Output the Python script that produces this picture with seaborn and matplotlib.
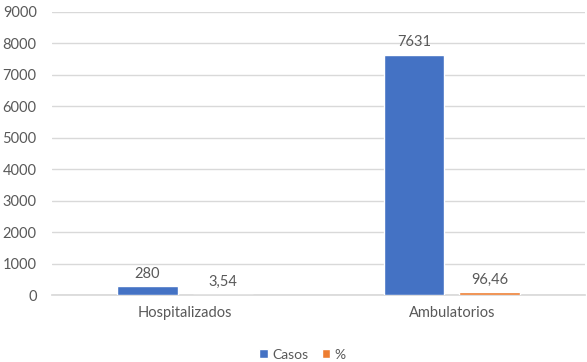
import pandas as pd
import matplotlib.pyplot as plt
import seaborn as sns

# ---------------- Data ----------------
categorias = ["Hospitalizados", "Ambulatorios"]
casos = [280, 7631]
porcentaje = [3.54, 96.46]
series = ["Casos", "%"]

df = pd.DataFrame({
    "Categoria": categorias * 2,
    "Serie": [series[0]] * len(categorias) + [series[1]] * len(categorias),
    "Valor": casos + porcentaje,
})

sns.set_theme(style="white")
plt.rcParams["font.family"] = ["Lato", "DejaVu Sans"]
txt = "#595959"

fig = plt.figure(figsize=(5.87, 3.62), dpi=100)
ax = fig.add_axes([0.0886, 0.185, 0.908, 0.782])

sns.barplot(data=df, x="Categoria", y="Valor", hue="Serie",
            palette=["#4472C4", "#ED7D31"], width=0.566, gap=0.2,
            saturation=1, ax=ax, zorder=3)

ax.set_ylim(0, 9000)
ax.set_yticks(range(0, 9001, 1000))
ax.yaxis.grid(True, color="#D9D9D9", linewidth=1, zorder=0)
ax.set_xlabel("")
ax.set_ylabel("")
for s in ["top", "right", "left"]:
    ax.spines[s].set_visible(False)
ax.spines["bottom"].set_color("#D9D9D9")
ax.tick_params(axis="both", length=0, labelsize=10.5, labelcolor=txt)
ax.tick_params(axis="y", pad=11)
ax.tick_params(axis="x", pad=8)

for cont in ax.containers:
    labels = [f"{v:g}".replace(".", ",") for v in cont.datavalues]
    ax.bar_label(cont, labels=labels, padding=4, fontsize=10.5, color=txt)

ax.legend(loc="upper center", bbox_to_anchor=(0.47, -0.145), ncol=2, frameon=False,
          fontsize=10, handlelength=0.6, handleheight=0.6, handletextpad=0.3,
          columnspacing=1.0, labelcolor=txt)

fig.savefig("out.png", dpi=100)
